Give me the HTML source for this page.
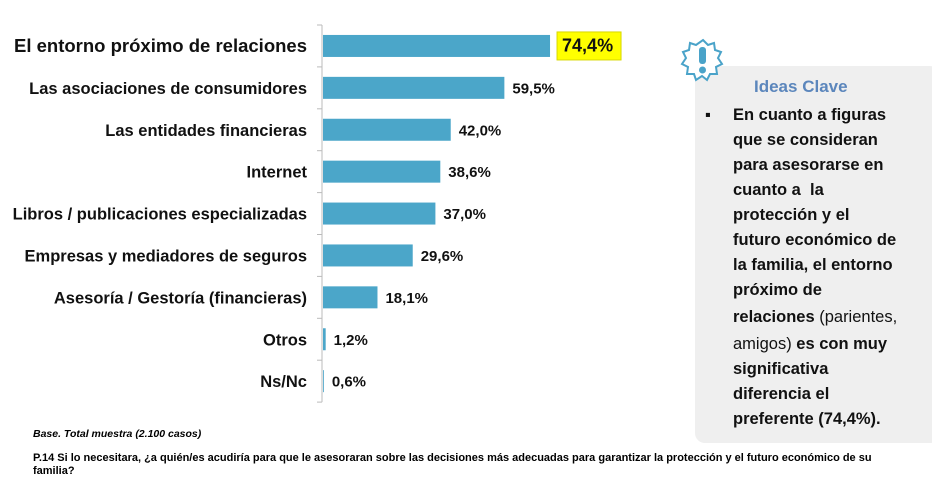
<!DOCTYPE html>
<html><head><meta charset="utf-8"><style>
body{margin:0;width:932px;height:484px;background:#fff;position:relative;overflow:hidden;font-family:"Liberation Sans",sans-serif}
svg{position:absolute;left:0;top:0}
#box{position:absolute;left:695px;top:66px;width:245px;height:377px;background:#efefef;border-radius:10px}
.ln{position:absolute;left:733px;font-size:16.5px;font-weight:bold;color:#111;white-space:nowrap;line-height:20px}
.n{font-weight:normal}
</style></head><body>
<div id="box"></div>
<svg width="932" height="484" id="chart"></svg>
<svg width="932" height="484" style="pointer-events:none">
<polygon points="703,40 708,45 714,43 715,50 721,52 718,58 722,64 716,67 717,74 710,74 707,80 702,76 696,80 694,74 687,74 688,67 682,64 686,58 683,52 689,50 690,43 696,45" fill="#fff" stroke="#4aa3c9" stroke-width="2"/>
<rect x="699" y="47" width="7" height="17" rx="3" fill="#4aa3c9"/><circle cx="702.5" cy="70" r="3.5" fill="#4aa3c9"/>
</svg>
<div class="ln" style="left:754px;top:77px;color:#5b86bc;font-size:17px">Ideas Clave</div>
<div class="ln" style="left:705px;top:105px">▪</div>
<div>
<div class="ln" style="top:105px">En cuanto a figuras</div>
<div class="ln" style="top:130px">que se consideran</div>
<div class="ln" style="top:155px">para asesorarse en</div>
<div class="ln" style="top:180px">cuanto a&nbsp; la</div>
<div class="ln" style="top:205px">protección y el</div>
<div class="ln" style="top:230px">futuro económico de</div>
<div class="ln" style="top:255px">la familia, el entorno</div>
<div class="ln" style="top:280px">próximo de</div>
<div class="ln" style="top:307px">relaciones <span class="n">(parientes,</span></div>
<div class="ln" style="top:334px"><span class="n">amigos)</span> es con muy</div>
<div class="ln" style="top:359px">significativa</div>
<div class="ln" style="top:384px">diferencia el</div>
<div class="ln" style="top:409px">preferente (74,4%).</div>
</div>
<div style="position:absolute;left:33px;top:428px;font-size:10.5px;font-weight:bold;font-style:italic">Base. Total muestra (2.100 casos)</div>
<div style="position:absolute;left:33px;top:452px;width:880px;font-size:11px;font-weight:bold;line-height:13px">P.14 Si lo necesitara, ¿a quién/es acudiría para que le asesoraran sobre las decisiones más adecuadas para garantizar la protección y el futuro económico de su familia?</div>
<script>
const categories=["El entorno próximo de relaciones","Las asociaciones de consumidores","Las entidades financieras","Internet","Libros / publicaciones especializadas","Empresas y mediadores de seguros","Asesoría / Gestoría (financieras)","Otros","Ns/Nc"];
const values=[74.4,59.5,42.0,38.6,37.0,29.6,18.1,1.2,0.6];
const labels=["74,4%","59,5%","42,0%","38,6%","37,0%","29,6%","18,1%","1,2%","0,6%"];
const NS="http://www.w3.org/2000/svg";
const svg=document.getElementById('chart');
const x0=322,scale=3.065,top0=25,band=41.9;
const xs=v=>x0+v*scale;
const yc=i=>top0+band*(i+0.5);
function mk(t,a){const e=document.createElementNS(NS,t);for(const k in a)e.setAttribute(k,a[k]);svg.appendChild(e);return e;}
const ax=mk('line',{x1:x0,y1:top0,x2:x0,y2:top0+band*categories.length,stroke:'#bbb','stroke-width':1});


for(let i=0;i<=categories.length;i++){const t=mk('line',{x1:x0-5,y1:top0+band*i,x2:x0,y2:top0+band*i,stroke:'#bbb'});

}
categories.forEach((c,i)=>{
 const y=yc(i);
 const b=mk('rect',{x:x0+1,y:y-11,width:xs(values[i])-x0-1,height:22,fill:'#4ba6c9'});
 
 
 const fs=i===0?18.5:16.5;
 const t=mk('text',{x:307,y:y+6,'text-anchor':'end','font-size':fs,'font-weight':'bold',fill:'#111','font-family':'Liberation Sans,sans-serif'});
 t.textContent=c;
 
 
 const lx=xs(values[i])+(i===0?12:8);
 if(i===0){const h=mk('rect',{x:lx-5,y:y-14,width:64,height:28,fill:'#ffff00',stroke:'#d8d800'});
  
  }
 const v=mk('text',{x:lx,y:y+5.5,'font-size':i===0?18:15,'font-weight':'bold',fill:'#111','font-family':'Liberation Sans,sans-serif'});
 v.textContent=labels[i];
 
 
});
</script>
</body></html>
